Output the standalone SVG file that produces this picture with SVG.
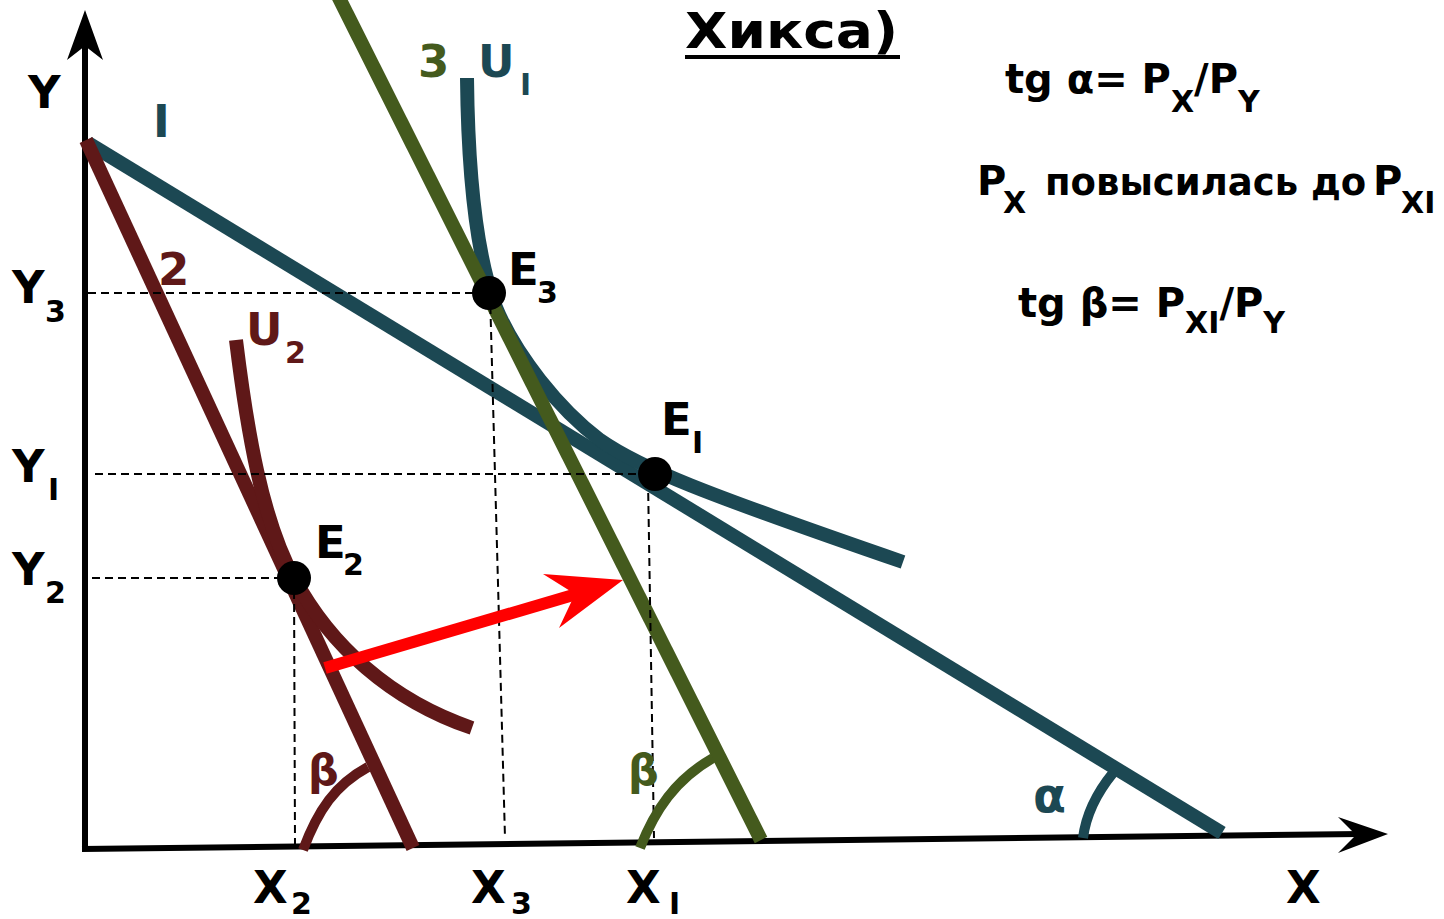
<svg xmlns="http://www.w3.org/2000/svg" width="1444" height="919" viewBox="0 0 1444 919">
<style>
text{font-family:"DejaVu Sans","Liberation Sans",sans-serif;font-weight:bold}
.lab{font-size:45px}
.sub{font-size:30px}
.f{font-size:40px}
.bl{fill:#1c4853}
.rd{fill:#5f1818}
.ol{fill:#445a1d}
.k{fill:#000}
.axis{stroke:#000;stroke-width:6;fill:none}
.l1{stroke:#1c4853;stroke-width:14;fill:none}
.l2{stroke:#5f1818;stroke-width:14;fill:none}
.l3{stroke:#445a1d;stroke-width:14;fill:none}
.arc{stroke-width:10;fill:none}
.dash{stroke:#000;stroke-width:2;stroke-dasharray:8 5;fill:none}
</style>
<rect width="1444" height="919" fill="#fff"/>
<g id="axes">
<line class="axis" x1="85" y1="851" x2="85" y2="45"/>
<polygon points="85,10 103,60 85,46 67,60" fill="#000"/>
<line class="axis" x1="82" y1="849" x2="1360" y2="834"/>
<polygon points="1388,834 1338,853 1356,835 1338,817" fill="#000"/>
</g>
<g id="connectors">
<line id="budget1" class="l1" x1="88" y1="143" x2="1222" y2="833"/>
<path id="U1" class="l1" d="M467,78 C468,170 475,250 495,305 C515,355 560,410 600,440 C640,468 700,492 903,562"/>
<line id="budget2" class="l2" x1="86" y1="140" x2="413" y2="848"/>
<path id="U2" class="l2" d="M236,340 C247,430 262,520 294,578 C330,645 390,700 472,728"/>
<line id="budget3" class="l3" x1="338" y1="-4" x2="761" y2="840"/>
<path class="dash" d="M88,293 H489 M490,293 L505,838 M95,474 H655 M648,480 L654,838 M92,578 H294 M294,578 L295,845"/>
<path class="arc" stroke="#5f1818" d="M303,850 C318,810 335,785 368,767"/>
<path class="arc" stroke="#445a1d" d="M640,848 C655,810 675,780 713,758"/>
<path class="arc" stroke="#1c4853" d="M1083,838 C1086,815 1095,795 1113,773"/>
<line x1="325" y1="668" x2="580" y2="593" stroke="#f00" stroke-width="12"/>
<polygon points="623,580 543,574 575,594 559,628" fill="#f00"/>
</g>
<g id="E3"><circle cx="489" cy="293" r="17" fill="#000"/><text class="lab k" x="508" y="285">E</text><text class="sub k" x="537" y="303">3</text></g>
<g id="E1"><circle cx="655" cy="474" r="17" fill="#000"/><text class="lab k" x="661" y="435">E</text><text class="sub k" x="692" y="453">I</text></g>
<g id="E2"><circle cx="294" cy="578" r="17" fill="#000"/><text class="lab k" x="315" y="558">E</text><text class="sub k" x="343" y="575">2</text></g>
<g id="labels">
<text class="lab k" x="28" y="108">Y</text>
<text class="lab bl" x="153" y="137">I</text>
<text class="lab ol" x="418" y="77">3</text>
<text class="lab bl" x="478" y="77">U</text><text class="sub bl" x="520" y="95">I</text>
<text class="lab rd" x="158" y="285">2</text>
<text class="lab rd" x="246" y="345">U</text><text class="sub rd" x="285" y="363">2</text>
<text class="lab k" x="12" y="303">Y</text><text class="sub k" x="45" y="322">3</text>
<text class="lab k" x="12" y="482">Y</text><text class="sub k" x="48" y="500">I</text>
<text class="lab k" x="12" y="585">Y</text><text class="sub k" x="45" y="603">2</text>
<text class="lab k" x="253" y="903">X</text><text class="sub k" x="291" y="914" font-size="28">2</text>
<text class="lab k" x="471" y="903">X</text><text class="sub k" x="511" y="914" font-size="28">3</text>
<text class="lab k" x="626" y="903">X</text><text class="sub k" x="669" y="914" font-size="28">I</text>
<text class="lab k" x="1286" y="903">X</text>
<text class="rd" x="308" y="785" font-size="43">β</text>
<text class="ol" x="628" y="785" font-size="43">β</text>
<text class="bl" x="1033" y="812" font-size="48">α</text>
</g>
<g id="title">
<text class="k" x="685" y="48" font-size="50" textLength="213" lengthAdjust="spacingAndGlyphs">Хикса)</text>
<line x1="685" y1="57" x2="900" y2="57" stroke="#000" stroke-width="4"/>
</g>
<g id="formulas">
<text class="f k" x="1005" y="93">tg α= P<tspan class="sub" dy="19">X</tspan><tspan dy="-19">/P</tspan><tspan class="sub" dy="19">Y</tspan></text>
<text class="f k" x="977" y="195">P<tspan class="sub" x="1003" y="213">X</tspan><tspan x="1045" y="195" font-size="37">повысилась до</tspan><tspan x="1373" y="195">P</tspan><tspan class="sub" x="1401" y="213" font-size="28">XI</tspan></text>
<text class="f k" x="1018" y="317">tg β= P<tspan class="sub" dy="16">XI</tspan><tspan dy="-16">/P</tspan><tspan class="sub" dy="16">Y</tspan></text>
</g>
</svg>
